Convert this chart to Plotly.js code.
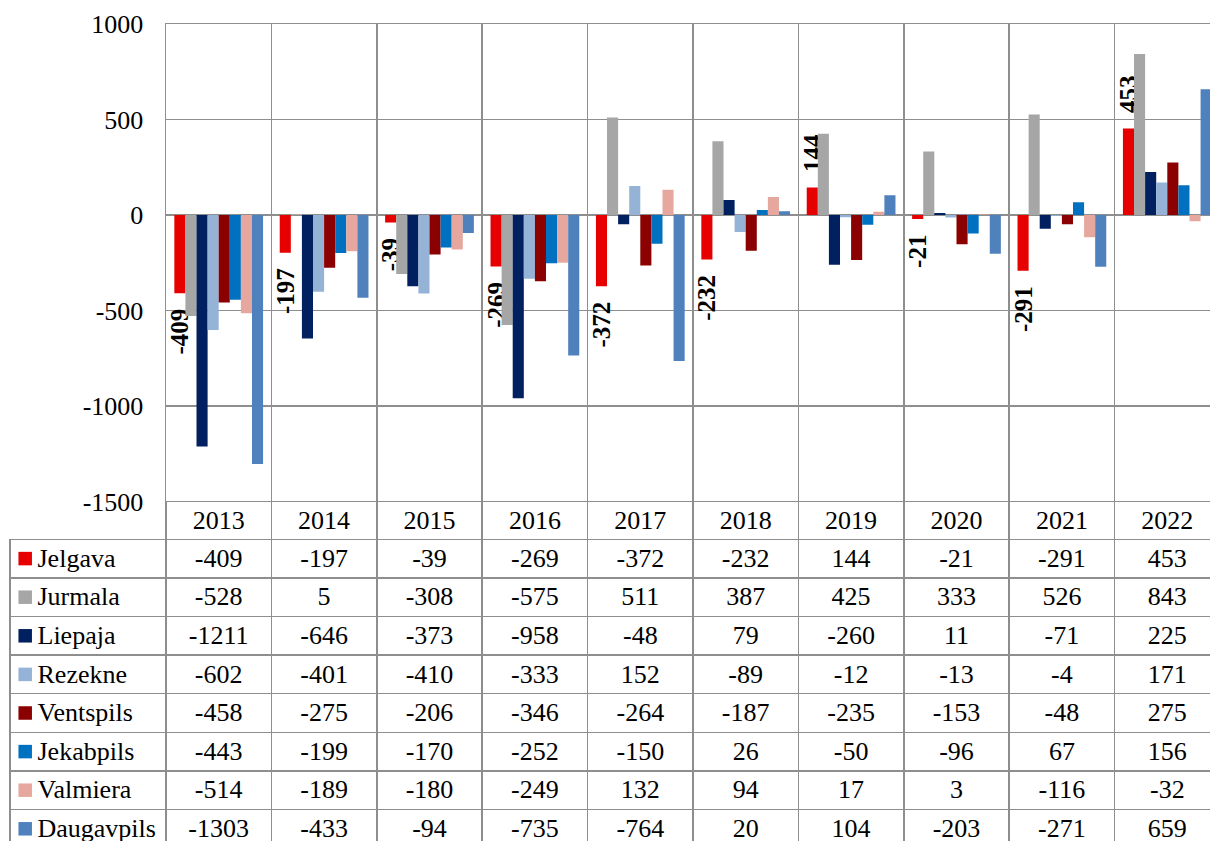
<!DOCTYPE html>
<html><head><meta charset="utf-8">
<script src="https://cdn.plot.ly/plotly-3.0.1.min.js"></script>
<style>html,body{margin:0;padding:0;overflow:hidden;background:#fff}#chart{width:1222px;height:850px}</style>
</head><body><div id="chart"></div>
<script>
const years = ['2013','2014','2015','2016','2017','2018','2019','2020','2021','2022'];
const seriesNames = ['Jelgava','Jurmala','Liepaja','Rezekne','Ventspils','Jekabpils','Valmiera','Daugavpils'];
const jelgava    = [-409,-197,-39,-269,-372,-232,144,-21,-291,453];
const jurmala    = [-528,5,-308,-575,511,387,425,333,526,843];
const liepaja    = [-1211,-646,-373,-958,-48,79,-260,11,-71,225];
const rezekne    = [-602,-401,-410,-333,152,-89,-12,-13,-4,171];
const ventspils  = [-458,-275,-206,-346,-264,-187,-235,-153,-48,275];
const jekabpils  = [-443,-199,-170,-252,-150,26,-50,-96,67,156];
const valmiera   = [-514,-189,-180,-249,132,94,17,3,-116,-32];
const daugavpils = [-1303,-433,-94,-735,-764,20,104,-203,-271,659];
const seriesValues = [jelgava,jurmala,liepaja,rezekne,ventspils,jekabpils,valmiera,daugavpils];
const seriesColors = ['#E60000','#A6A6A6','#002060','#95B3D7','#8B0000','#0070C0','#E6A89E','#4F81BD'];
const yTickVals  = [-1500,-1000,-500,0,500,1000];
const yTickText  = ['-1500','-1000','-500','0','500','1000'];
const labelledSeries = 0; // Jelgava carries data labels

const W = 1222, H = 850, mL = 10, mR = 2, mT = 24, mB = 0;
const labelColPx = 156, plotBottomPx = 501.7;
const headerH = 37.6, rowH = 38.6;
const plotW = W - mL - mR, plotH = H - mT - mB;
const xDomStart = labelColPx / plotW;
const yDomStart = (H - plotBottomPx) / plotH;
const tableH = H - plotBottomPx;
const FONT = '"Liberation Serif", "Times New Roman", serif';
const GRID = '#8E8E8E';
const NB = '\u00A0\u00A0';
const INDENT = '\u00A0\u00A0\u00A0';

const traces = seriesNames.map((name, i) => {
  const t = {
    type: 'bar', name: name, x: years, y: seriesValues[i],
    marker: {color: seriesColors[i]},
    xaxis: 'x', yaxis: 'y', hoverinfo: 'skip', showlegend: false
  };
  if (i === labelledSeries) {
    t.text = seriesValues[i].map(v => v < 0 ? String(v) + NB : NB + String(v));
    t.texttemplate = '%{text}';
    t.textposition = 'outside';
    t.textangle = -90;
    t.constraintext = 'none';
    t.cliponaxis = false;
    t.textfont = {family: FONT, size: 25, color: '#000', weight: 'bold'};
  }
  return t;
});

// legend keys of the data table: one square per series, on a hidden row axis
traces.push({
  type: 'scatter', mode: 'markers', xaxis: 'x2', yaxis: 'y2',
  x: seriesNames.map(() => 15.2), y: seriesNames.map((n, i) => i),
  marker: {symbol: 'square', size: 13.5, color: seriesColors, line: {width: 0}},
  hoverinfo: 'skip', showlegend: false, cliponaxis: false
});

const headerVals = [''].concat(years);
const labelCol = seriesNames.map(n => INDENT + n);
const cellCols = [labelCol].concat(years.map((y, j) => seriesValues.map(s => String(s[j]))));

traces.push({
  type: 'table',
  domain: {x: [0, 1], y: [0, yDomStart]},
  columnwidth: [labelColPx].concat(years.map(() => (plotW - labelColPx) / years.length)),
  header: {
    values: headerVals, height: headerH, align: 'center',
    fill: {color: ['rgba(0,0,0,0)'].concat(years.map(() => '#fff'))},
    line: {color: ['rgba(0,0,0,0)'].concat(years.map(() => GRID)), width: 1.5},
    font: {family: FONT, size: 26, color: '#000'}
  },
  cells: {
    values: cellCols, height: rowH,
    align: ['left'].concat(years.map(() => 'center')),
    fill: {color: ['rgba(0,0,0,0)'].concat(years.map(() => '#fff'))},
    line: {color: GRID, width: 1.5},
    font: {family: FONT, size: 26, color: '#000'}
  }
});

const rowTop = -(headerH + rowH / 2) / rowH;
const rowBottom = rowTop + tableH / rowH;

const layout = {
  width: W, height: H,
  margin: {l: mL, r: mR, t: mT, b: mB, pad: 0},
  paper_bgcolor: '#fff', plot_bgcolor: 'rgba(0,0,0,0)',
  barmode: 'group', bargap: 0.158, bargroupgap: 0,
  showlegend: false, hovermode: false,
  font: {family: FONT, size: 26, color: '#000'},
  xaxis: {
    type: 'category', domain: [xDomStart, 1], tickson: 'boundaries',
    showgrid: true, gridcolor: GRID, gridwidth: 1.5,
    showticklabels: false, ticks: '',
    showline: true, linecolor: GRID, linewidth: 1.5, mirror: true, fixedrange: true
  },
  yaxis: {
    domain: [yDomStart, 1], range: [-1500, 1000],
    tickmode: 'array', tickvals: yTickVals, ticktext: yTickText,
    showgrid: true, gridcolor: GRID, gridwidth: 1.5,
    zeroline: true, zerolinecolor: GRID, zerolinewidth: 1.5,
    showline: true, linecolor: GRID, linewidth: 1.5, mirror: true,
    ticks: 'outside', ticklen: 16, tickcolor: 'rgba(0,0,0,0)',
    tickfont: {family: FONT, size: 26, color: '#000'}, fixedrange: true
  },
  xaxis2: {domain: [0, xDomStart], range: [0, labelColPx], visible: false, fixedrange: true},
  yaxis2: {domain: [0, yDomStart], range: [rowBottom, rowTop], visible: false, fixedrange: true}
};

Plotly.newPlot('chart', traces, layout, {displayModeBar: false, staticPlot: true});
</script></body></html>
